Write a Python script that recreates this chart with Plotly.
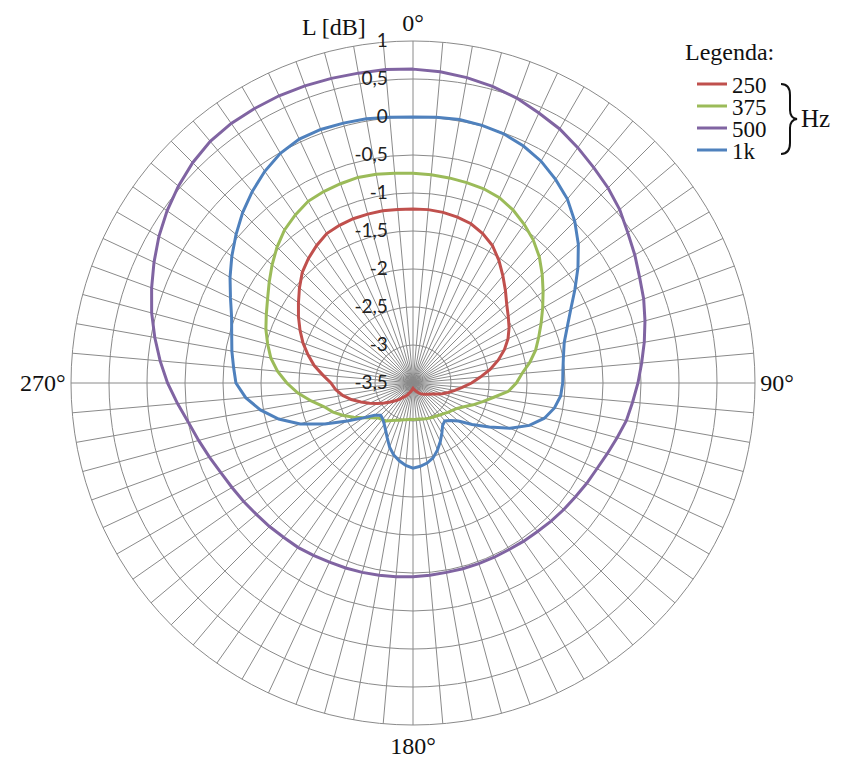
import plotly.graph_objects as go

# ---- data -------------------------------------------------------------
angles = list(range(0, 360, 5))

L_250 = [-1.21, -1.21, -1.22, -1.24, -1.27, -1.33, -1.41, -1.53, -1.66, -1.78, -1.89, -1.97,
         -2.04, -2.12, -2.22, -2.34, -2.47, -2.61, -2.73, -2.85, -2.94, -3.02, -3.09, -3.16,
         -3.21, -3.24, -3.27, -3.29, -3.31, -3.33, -3.35, -3.37, -3.39, -3.40, -3.41, -3.42,
         -3.43, -3.42, -3.40, -3.38, -3.36, -3.33, -3.30, -3.27, -3.22, -3.17, -3.11, -3.04,
         -2.96, -2.87, -2.77, -2.66, -2.56, -2.48, -2.42, -2.31, -2.18, -2.07, -1.96, -1.86,
         -1.76, -1.66, -1.55, -1.44, -1.36, -1.29, -1.23, -1.21, -1.20, -1.20, -1.20, -1.21]

L_375 = [-0.74, -0.75, -0.76, -0.77, -0.78, -0.81, -0.87, -0.95, -1.04, -1.15, -1.28, -1.41,
         -1.53, -1.64, -1.74, -1.83, -1.94, -2.06, -2.14, -2.24, -2.42, -2.55, -2.66, -2.76,
         -2.83, -2.87, -2.90, -2.93, -2.95, -2.97, -2.98, -2.99, -3.00, -3.01, -3.02, -3.02,
         -3.02, -3.02, -3.01, -3.00, -2.98, -2.96, -2.93, -2.89, -2.87, -2.85, -2.79, -2.70,
         -2.60, -2.49, -2.38, -2.29, -2.14, -1.98, -1.84, -1.71, -1.60, -1.52, -1.44, -1.37,
         -1.29, -1.19, -1.08, -0.97, -0.87, -0.80, -0.74, -0.72, -0.71, -0.70, -0.71, -0.73]

L_500 = [0.63, 0.61, 0.58, 0.54, 0.49, 0.42, 0.36, 0.28, 0.20, 0.13, 0.05, -0.05,
         -0.13, -0.21, -0.27, -0.34, -0.41, -0.48, -0.54, -0.60, -0.65, -0.72, -0.78, -0.83,
         -0.86, -0.89, -0.91, -0.93, -0.95, -0.96, -0.97, -0.97, -0.97, -0.97, -0.97, -0.96,
         -0.95, -0.94, -0.93, -0.92, -0.91, -0.90, -0.88, -0.86, -0.85, -0.83, -0.81, -0.78,
         -0.75, -0.71, -0.65, -0.58, -0.50, -0.39, -0.27, -0.16, -0.05, 0.06, 0.16, 0.26,
         0.36, 0.45, 0.53, 0.60, 0.65, 0.67, 0.67, 0.67, 0.66, 0.65, 0.64, 0.64]

L_1k = [0.00, 0.01, 0.02, 0.01, -0.01, -0.06, -0.13, -0.23, -0.34, -0.49, -0.66, -0.85,
        -1.04, -1.21, -1.34, -1.44, -1.49, -1.52, -1.53, -1.55, -1.61, -1.71, -1.87, -2.09,
        -2.34, -2.55, -2.72, -2.80, -2.85, -2.82, -2.74, -2.65, -2.56, -2.48, -2.43, -2.40,
        -2.38, -2.41, -2.46, -2.52, -2.60, -2.70, -2.78, -2.84, -2.88, -2.90, -2.84, -2.70,
        -2.50, -2.22, -1.92, -1.67, -1.46, -1.29, -1.17, -1.13, -1.08, -1.03, -0.96, -0.85,
        -0.72, -0.59, -0.46, -0.33, -0.21, -0.10, -0.01, 0.04, 0.05, 0.04, 0.03, 0.01]

series_names = ["250", "375", "500", "1k"]
series_values = [L_250, L_375, L_500, L_1k]
series_colors = ["#C0504D", "#9BBB59", "#8064A2", "#4F81BD"]

radial_ticks = [-3.5, -3, -2.5, -2, -1.5, -1, -0.5, 0, 0.5, 1]
radial_ticktext = ["-3,5", "-3", "-2,5", "-2", "-1,5", "-1", "-0,5", "0", "0,5", "1"]
angle_labels = {0: "0°", 90: "90°", 180: "180°", 270: "270°"}

# ---- figure -----------------------------------------------------------
W, H = 845, 760
cx, cy, R = 413, 383, 342
SERIF = "Liberation Serif"

fig = go.Figure()
for i, (name, vals, col) in enumerate(zip(series_names, series_values, series_colors)):
    fig.add_trace(go.Scatterpolar(
        r=vals + vals[:1], theta=angles + angles[:1], mode="lines", name=name,
        line=dict(color=col, width=3), showlegend=True,
        legend="legend" if i == 0 else f"legend{i+1}",
    ))

grid = "#8a8a8a"
fig.update_layout(
    width=W, height=H, margin=dict(l=0, r=0, t=0, b=0),
    paper_bgcolor="white", plot_bgcolor="white", showlegend=True,
    polar=dict(
        domain=dict(x=[(cx - R) / W, (cx + R) / W],
                    y=[(H - cy - R) / H, (H - cy + R) / H]),
        bgcolor="white",
        radialaxis=dict(range=[-3.5, 1], tickmode="array", tickvals=radial_ticks,
                        ticktext=radial_ticktext, angle=90, tickangle=90,
                        side="counterclockwise",
                        showline=False, ticks="outside", ticklen=18,
                        tickcolor="rgba(0,0,0,0)",
                        gridcolor=grid, gridwidth=1,
                        tickfont=dict(family="Lato", size=19, color="#222")),
        angularaxis=dict(direction="clockwise", rotation=90, tickmode="array",
                         tickvals=angles,
                         ticktext=[angle_labels.get(a, "") for a in angles],
                         ticks="", showline=True, linecolor=grid, linewidth=1,
                         gridcolor=grid, gridwidth=1,
                         tickfont=dict(family=SERIF, size=24, color="#111")),
    ),
    font=dict(family=SERIF, color="#111"),
)

# one legend per entry so that the entries can sit tightly stacked as in the original
legend_rows = [84, 106, 128, 150]
for i, yy in enumerate(legend_rows):
    key = "legend" if i == 0 else f"legend{i+1}"
    fig.update_layout({key: dict(x=(697 - 5) / W, y=1 - yy / H, xanchor="left", yanchor="middle",
                                 bgcolor="rgba(0,0,0,0)", borderwidth=0, visible=True,
                                 font=dict(family=SERIF, size=23, color="#111"),
                                 itemclick=False, itemdoubleclick=False)})

fig.add_annotation(x=683 / W, y=1 - 52 / H, xref="paper", yref="paper", text="Legenda:",
                   showarrow=False, xanchor="left", yanchor="middle",
                   font=dict(family=SERIF, size=24, color="#111"))
fig.add_annotation(x=799 / W, y=1 - 119 / H, xref="paper", yref="paper", text="Hz",
                   showarrow=False, xanchor="left", yanchor="middle",
                   font=dict(family=SERIF, size=25, color="#111"))
fig.add_annotation(x=334 / W, y=1 - 27 / H, xref="paper", yref="paper", text="L [dB]",
                   showarrow=False, xanchor="center", yanchor="middle",
                   font=dict(family=SERIF, size=24, color="#111"))

# curly brace next to the legend
def P(x, y):
    return f"{x / W:.5f},{1 - y / H:.5f}"

brace = (f"M {P(781, 84)} Q {P(790, 84)} {P(790, 95)} L {P(790, 110)} "
         f"Q {P(790, 118)} {P(797, 119)} Q {P(790, 120)} {P(790, 128)} "
         f"L {P(790, 143)} Q {P(790, 154)} {P(781, 154)}")
fig.add_shape(type="path", path=brace, xref="paper", yref="paper",
              line=dict(color="#111", width=2))

fig.write_html("out.html", config={"displayModeBar": False},
               post_script="document.body.style.margin='0';document.body.style.overflow='hidden';")
